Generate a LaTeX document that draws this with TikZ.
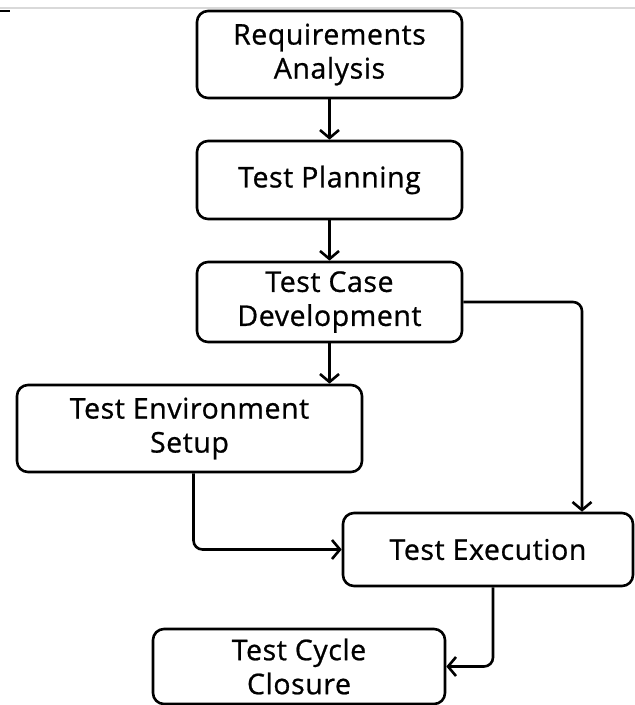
\documentclass[tikz,border=0pt]{standalone}
\usepackage{fontspec}
\setmainfont{Open Sans}[FakeBold=0.8, LetterSpace=2]
\usetikzlibrary{arrows.meta,positioning}
\tikzset{
  box/.style={draw=black, line width=2.6pt, rounded corners=11pt, align=center,
    font=\fontsize{28.5}{34}\selectfont, inner sep=0pt},
  conn/.style={draw=black, line width=2.6pt, rounded corners=9pt,
    -{Straight Barb[length=8pt,width=19pt]}},
}
\begin{document}
\begin{tikzpicture}[x=1pt,y=1pt]
\useasboundingbox (0,0) rectangle (635,-705);
\draw[gray!30, line width=1.5pt] (0,-8) -- (635,-8);
\draw[black, line width=2pt] (0,-11) -- (10,-11);
\node[box, minimum width=265pt, minimum height=87pt] (b1) at (329.5,-54.5) {Requirements\\Analysis};
\node[box, minimum width=265pt, minimum height=78pt] (b2) at (329.5,-180) {Test Planning};
\node[box, minimum width=265pt, minimum height=80pt] (b3) at (329.5,-302) {Test Case\\Development};
\node[box, minimum width=345pt, minimum height=87pt] (b4) at (189.5,-428.5) {Test Environment\\Setup};
\node[box, minimum width=290pt, minimum height=73pt] (b5) at (488,-549.5) {Test Execution};
\node[box, minimum width=292pt, minimum height=75pt] (b6) at (299,-666.5) {Test Cycle\\Closure};
\draw[conn] (b1.south) -- (b2.north);
\draw[conn] (b2.south) -- (b3.north);
\draw[conn] (b3.south) -- (b3.south |- b4.north);
\draw[conn] (b3.east) -| ([xshift=94pt]b5.north);
\draw[conn] ([xshift=4pt]b4.south) |- (b5.west);
\draw[conn] ([xshift=5pt]b5.south) |- (b6.east);
\end{tikzpicture}
\end{document}
